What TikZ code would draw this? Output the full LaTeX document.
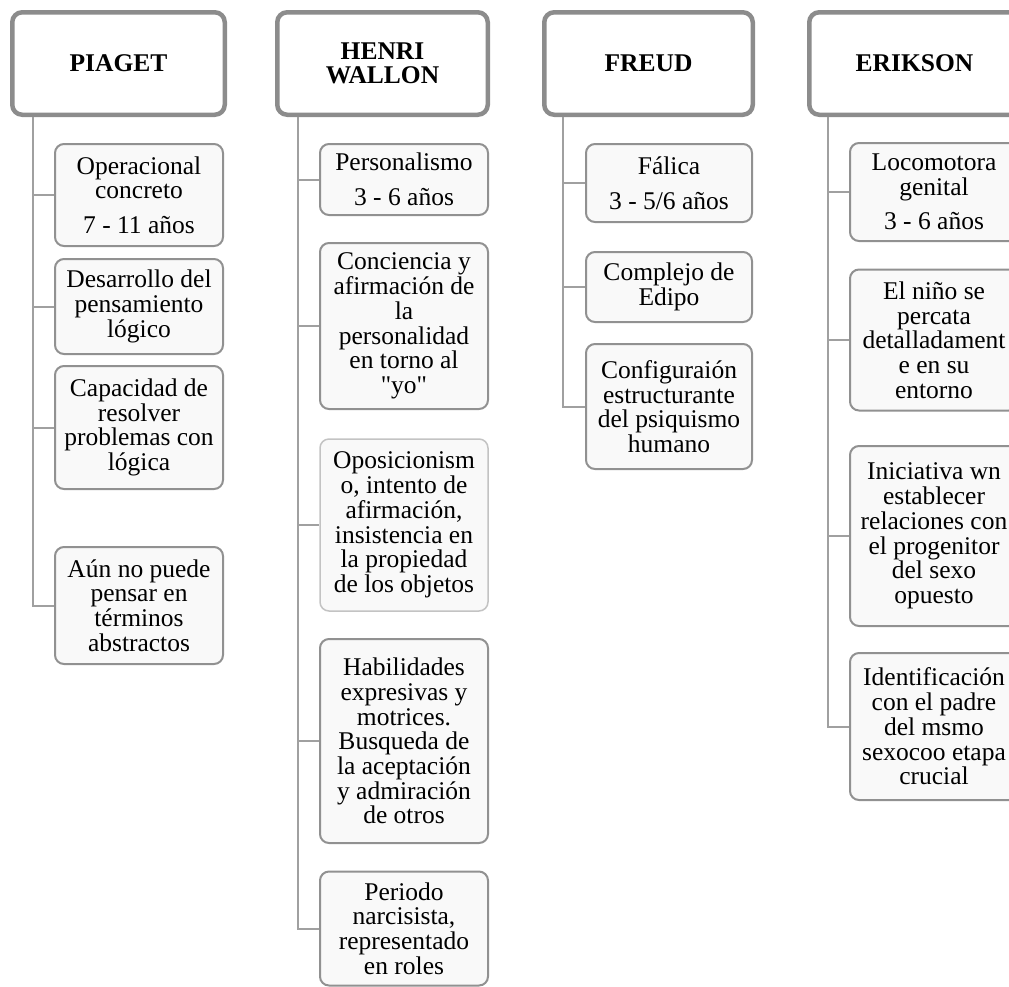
\documentclass[tikz,border=0pt]{standalone}
\usepackage{fontspec}
\setmainfont{Liberation Serif}[Ligatures=TeXOff]
\definecolor{headline}{RGB}{140,140,140}
\definecolor{itemline}{RGB}{145,145,145}
\definecolor{softline}{RGB}{195,195,195}
\definecolor{itemfill}{RGB}{249,249,249}
\definecolor{linkline}{RGB}{160,160,160}
\tikzset{
  head/.style={draw=headline, line width=4.5pt, rounded corners=10pt, fill=white,
    inner sep=0pt, align=center, font=\bfseries\fontsize{25.5pt}{23.5pt}\selectfont},
  item/.style={draw=itemline, line width=2pt, rounded corners=9pt, fill=itemfill,
    inner sep=0pt, align=center, font=\fontsize{25.5pt}{24.7pt}\selectfont},
  softitem/.style={item, draw=softline, line width=1.5pt},
  link/.style={draw=linkline, line width=2pt}
}
\begin{document}
\begin{tikzpicture}[x=1pt,y=-1pt]
\useasboundingbox (0,0) rectangle (1009,986);
\clip (0,0) rectangle (1009,986);

% ---------- PIAGET ----------
\node[head, minimum width=212.5pt, minimum height=102.5pt] (pH) at (118.5,63.5) {PIAGET};
\coordinate (pT) at (33,117);
\node[item, minimum width=168pt, minimum height=102pt] (p1) at (139,195) {Operacional\\concreto\\[10pt]7 - 11 años};
\node[item, minimum width=168pt, minimum height=95pt] (p2) at (139,306.5) {Desarrollo del\\pensamiento\\lógico};
\node[item, minimum width=168pt, minimum height=123pt] (p3) at (139,427.5) {Capacidad de\\resolver\\problemas con\\lógica};
\node[item, minimum width=168pt, minimum height=117pt] (p4) at (139,605.5) {Aún no puede\\pensar en\\términos\\abstractos};
\draw[link] (pH.south -| pT) |- (p4.west);
\foreach \c in {p1,p2,p3} \draw[link] (\c.west -| pT) -- (\c.west);

% ---------- HENRI WALLON ----------
\node[head, minimum width=210.5pt, minimum height=102.5pt] (wH) at (382.5,63.5) {HENRI\\WALLON};
\coordinate (wT) at (298,117);
\node[item, minimum width=168pt, minimum height=71pt] (w1) at (404,179.5) {Personalismo\\[10pt]3 - 6 años};
\node[item, minimum width=168pt, minimum height=166pt] (w2) at (404,326) {Conciencia y\\afirmación de\\la\\personalidad\\en torno al\\"yo"};
\node[softitem, minimum width=168pt, minimum height=172pt] (w3) at (404,525) {Oposicionism\\o, intento de\\afirmación,\\insistencia en\\la propiedad\\de los objetos};
\node[item, minimum width=168pt, minimum height=204pt] (w4) at (404,741) {Habilidades\\expresivas y\\motrices.\\Busqueda de\\la aceptación\\y admiración\\de otros};
\node[item, minimum width=168pt, minimum height=114pt] (w5) at (404,928.5) {Periodo\\narcisista,\\representado\\en roles};
\draw[link] (wH.south -| wT) |- (w5.west);
\foreach \c in {w1,w2,w3,w4} \draw[link] (\c.west -| wT) -- (\c.west);

% ---------- FREUD ----------
\node[head, minimum width=208.5pt, minimum height=102.5pt] (fH) at (648.5,63.5) {FREUD};
\coordinate (fT) at (563,117);
\node[item, minimum width=166pt, minimum height=78pt] (f1) at (669,183) {Fálica\\[10pt]3 - 5/6 años};
\node[item, minimum width=166pt, minimum height=70pt] (f2) at (669,287) {Complejo de\\Edipo};
\node[item, minimum width=166pt, minimum height=125pt] (f3) at (669,406.5) {Configuraión\\estructurante\\del psiquismo\\humano};
\draw[link] (fH.south -| fT) |- (f3.west);
\foreach \c in {f1,f2} \draw[link] (\c.west -| fT) -- (\c.west);

% ---------- ERIKSON ----------
\node[head, minimum width=210.5pt, minimum height=102.5pt] (eH) at (914.5,63.5) {ERIKSON};
\coordinate (eT) at (828,117);
\node[item, minimum width=168pt, minimum height=98pt] (e1) at (934,192) {Locomotora\\genital\\[10pt]3 - 6 años};
\node[item, minimum width=168pt, minimum height=141pt] (e2) at (934,340) {El niño se\\percata\\detalladament\\e en su\\entorno};
\node[item, minimum width=168pt, minimum height=180pt] (e3) at (934,536) {Iniciativa wn\\establecer\\relaciones con\\el progenitor\\del sexo\\opuesto};
\node[item, minimum width=168pt, minimum height=147pt] (e4) at (934,726.5) {Identificación\\con el padre\\del msmo\\sexocoo etapa\\crucial};
\draw[link] (eH.south -| eT) |- (e4.west);
\foreach \c in {e1,e2,e3} \draw[link] (\c.west -| eT) -- (\c.west);
\end{tikzpicture}
\end{document}
